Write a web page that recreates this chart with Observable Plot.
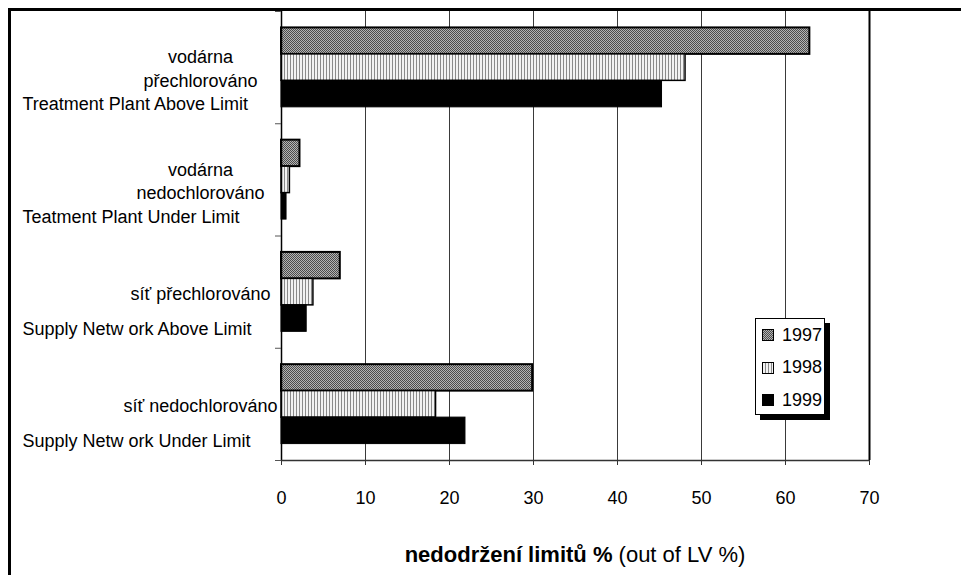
<!DOCTYPE html>
<html>
<head>
<meta charset="utf-8">
<script src="https://cdn.jsdelivr.net/npm/d3@7"></script>
<script src="https://cdn.jsdelivr.net/npm/@observablehq/plot@0.6"></script>
<style>
  html, body { margin: 0; padding: 0; background: #fff; }
  body { width: 961px; height: 575px; position: relative; overflow: hidden;
         font-family: "Liberation Sans", Arial, sans-serif; color: #000; }
  #frame { position: absolute; left: 8px; top: 8px; right: -10px; bottom: -10px;
           border-left: 3px solid #000; border-top: 3px solid #000; }
  #chart { position: absolute; left: 11px; top: 11px; }
  #title { position: absolute; left: 281px; width: 588px; top: 544px;
           text-align: center; font-size: 22px; line-height: 22px; white-space: nowrap; }
  #legend { position: absolute; left: 755px; top: 318px; width: 68px; height: 95px;
            border: 1px solid #000; background: #fff; box-shadow: 5px 5px 0 #000; }
  #legend .row { position: absolute; left: 6px; height: 20px; display: flex; align-items: center;
                 font-size: 18px; }
  #legend svg { margin-right: 8px; }
</style>
</head>
<body>
<svg width="0" height="0" style="position:absolute">
  <defs>
    <pattern id="p1997" patternUnits="userSpaceOnUse" width="2" height="2">
      <rect width="2" height="2" fill="#b4b4b4"></rect>
      <rect x="0" y="0" width="1" height="1" fill="#4c4c4c"></rect>
      <rect x="1" y="1" width="1" height="1" fill="#4c4c4c"></rect>
    </pattern>
    <pattern id="p1998" patternUnits="userSpaceOnUse" width="3" height="3">
      <rect width="3" height="3" fill="#f2f2f2"></rect>
      <rect x="0" y="0" width="1" height="3" fill="#8a8a8a"></rect>
    </pattern>
  </defs>
</svg>
<div id="frame"></div>
<div id="chart"></div>
<div id="legend"></div>
<div id="title"><b>nedodržení limitů %</b> (out of LV %)</div>
<script>
// Categories (top to bottom) with their Czech and English captions
const categories = ["vodárna přechlorováno", "vodárna nedochlorováno", "síť přechlorováno", "síť nedochlorováno"];
const czechLabels = [["vodárna", "přechlorováno"], ["vodárna", "nedochlorováno"], ["síť přechlorováno"], ["síť nedochlorováno"]];
const englishLabels = ["Treatment Plant Above Limit", "Teatment Plant Under Limit", "Supply Netw ork Above Limit", "Supply Netw ork Under Limit"];

// Share of samples out of limit (%) per year, in category order
const years = ["1997", "1998", "1999"];
const values1997 = [62.9, 2.2, 7.0, 29.9];
const values1998 = [48.1, 1.0, 3.8, 18.4];
const values1999 = [45.3, 0.6, 3.0, 21.9];
const xTicks = [0, 10, 20, 30, 40, 50, 60, 70];

const seriesValues = [values1997, values1998, values1999];
const rows = categories.flatMap((category, i) =>
  years.map((year, j) => ({category, index: i, year, value: seriesValues[j][i]})));

// Each category occupies one unit on the y axis; years split it into sub-bands
const inner = d3.scaleBand().domain(years).range([0, 1]).paddingInner(0).paddingOuter(0.62);
const y1 = d => d.index + inner(d.year);
const y2 = d => d.index + inner(d.year) + inner.bandwidth();

const fills = ["url(#p1997)", "url(#p1998)", "#000"];
const strokeWidths = {"1997": 2, "1998": 1.5, "1999": 1};

const yearBars = years.map(year => Plot.rect(rows.filter(d => d.year === year), {
  x1: () => 0, x2: "value", y1, y2,
  fill: "year", stroke: "#000", strokeWidth: strokeWidths[year]
}));

const chart = Plot.plot({
  width: 950,
  height: 510,
  marginLeft: 270,
  marginRight: 92,
  marginTop: 0,
  marginBottom: 61,
  style: {fontFamily: "'Liberation Sans', Arial, sans-serif", fontSize: "18px", background: "transparent", overflow: "visible"},
  x: {domain: [0, 70]},
  y: {domain: [0, 4], reverse: true},
  color: {type: "ordinal", domain: years, range: fills},
  marks: [
    Plot.ruleX(xTicks.slice(1, -1), {stroke: "#3a3a3a", strokeWidth: 1}),
    Plot.ruleX([70], {stroke: "#000", strokeWidth: 2}),
    ...yearBars,
    Plot.ruleX([0], {stroke: "#000", strokeWidth: 1.5}),
    Plot.ruleY([4], {stroke: "#333", strokeWidth: 1.5}),
    Plot.axisY({ticks: d3.range(5), tickSize: 6, tickFormat: () => "", label: null, stroke: "#555"}),
    Plot.axisX({ticks: xTicks, tickSize: 5, tickPadding: 26, fontSize: 18, label: null, stroke: "#333", tickFormat: d => String(d)}),
    Plot.text(d3.range(categories.length), {
      y: i => i + 0.5, text: i => czechLabels[i].join("\n"),
      frameAnchor: "left", textAnchor: "middle", dx: -81, lineHeight: 1.3, fontSize: 18
    }),
    Plot.text(d3.range(categories.length), {
      y: i => i + 0.5, text: i => englishLabels[i],
      frameAnchor: "left", textAnchor: "start", dx: -259, dy: 37, fontSize: 18
    })
  ]
});
document.getElementById("chart").appendChild(chart);

// Legend: one swatch per year, using the same fills as the bars
const legend = d3.select("#legend");
years.forEach((year, j) => {
  const row = legend.append("div").attr("class", "row").style("top", `${6 + j * 32.5}px`);
  const sw = row.append("svg").attr("width", 12).attr("height", 12);
  sw.append("rect").attr("x", 0.5).attr("y", 0.5).attr("width", 11).attr("height", 11)
    .attr("fill", fills[j]).attr("stroke", "#000").attr("stroke-width", 1);
  row.append("span").text(year);
});
</script>
</body>
</html>
